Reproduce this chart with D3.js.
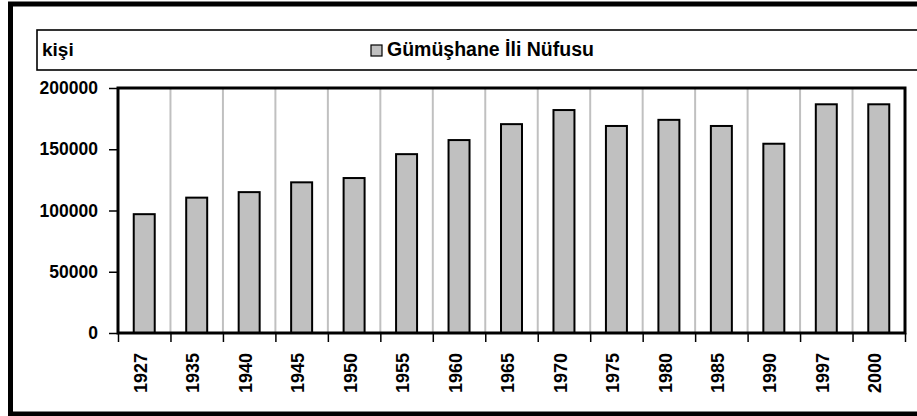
<!DOCTYPE html>
<html>
<head>
<meta charset="utf-8">
<script src="https://cdn.jsdelivr.net/npm/d3@7"></script>
<style>
  html, body { margin: 0; padding: 0; background: #fff; }
  svg { display: block; }
  text { font-family: "Liberation Sans", Arial, sans-serif; font-weight: 700; fill: #000; }
</style>
</head>
<body>
<svg id="chart" width="917" height="416"></svg>
<script>
// ─── Data ─────────────────────────────────────────────────────────────────────

const years = ["1927", "1935", "1940", "1945", "1950", "1955", "1960", "1965",
               "1970", "1975", "1980", "1985", "1990", "1997", "2000"];
const population = [97000, 110500, 115000, 123000, 126500, 146000, 157500, 170500,
                    182000, 169000, 174000, 169000, 154500, 186700, 186700];
const yTicks = [0, 50000, 100000, 150000, 200000];
const unitLabel = "kişi";
const seriesName = "Gümüşhane İli Nüfusu";

// ─── Layout ───────────────────────────────────────────────────────────────────

const svg = d3.select("#chart");
const plot = { left: 118, right: 905, top: 88, bottom: 333 };

const x = d3.scaleBand()
  .domain(years)
  .range([plot.left, plot.right])
  .paddingInner(0.6)
  .paddingOuter(0.3);

// index scale for the category boundaries (gridlines + tick marks)
const xi = d3.scaleLinear().domain([0, years.length]).range([plot.left, plot.right]);

const y = d3.scaleLinear().domain([0, 200000]).range([plot.bottom, plot.top]);

// outer chart border (runs off the right edge)
svg.append("rect")
  .attr("x", 10.5).attr("y", 4)
  .attr("width", 940).attr("height", 410)
  .attr("fill", "none")
  .attr("stroke", "#000")
  .attr("stroke-width", 5);

// legend box
svg.append("rect")
  .attr("x", 37).attr("y", 30)
  .attr("width", 900).attr("height", 40)
  .attr("fill", "#fff")
  .attr("stroke", "#000")
  .attr("stroke-width", 1.6);

svg.append("text")
  .attr("x", 42).attr("y", 56)
  .attr("font-size", "19px")
  .text(unitLabel);

svg.append("rect")
  .attr("x", 371).attr("y", 45)
  .attr("width", 11).attr("height", 11)
  .attr("fill", "#c0c0c0")
  .attr("stroke", "#000")
  .attr("stroke-width", 1.2);

svg.append("text")
  .attr("x", 387).attr("y", 56)
  .attr("font-size", "19.5px")
  .text(seriesName);

// gridlines at category boundaries
svg.append("g")
  .selectAll("line")
  .data(d3.range(1, years.length))
  .join("line")
  .attr("x1", d => xi(d)).attr("x2", d => xi(d))
  .attr("y1", plot.top).attr("y2", plot.bottom)
  .attr("stroke", "#c0c0c0")
  .attr("stroke-width", 2);

// bars
svg.append("g")
  .selectAll("rect")
  .data(years.map((yr, i) => ({ yr, v: population[i] })))
  .join("rect")
  .attr("x", d => x(d.yr))
  .attr("y", d => y(d.v))
  .attr("width", x.bandwidth())
  .attr("height", d => y(0) - y(d.v))
  .attr("fill", "#c0c0c0")
  .attr("stroke", "#000")
  .attr("stroke-width", 2);

// plot frame
svg.append("rect")
  .attr("x", plot.left).attr("y", plot.top)
  .attr("width", plot.right - plot.left)
  .attr("height", plot.bottom - plot.top)
  .attr("fill", "none")
  .attr("stroke", "#000")
  .attr("stroke-width", 3);

// y axis
const yAxis = svg.append("g")
  .attr("transform", `translate(${plot.left},0)`)
  .call(d3.axisLeft(y).tickValues(yTicks).tickSize(9).tickPadding(11).tickFormat(d3.format("d")));
yAxis.select(".domain").remove();
yAxis.selectAll("line").attr("stroke", "#000").attr("stroke-width", 1.5);
yAxis.selectAll("text")
  .attr("font-family", "Liberation Sans, Arial, sans-serif")
  .attr("font-weight", 700)
  .attr("font-size", "17.5px")
  .attr("fill", "#000");

// x tick marks at boundaries
const xTickAxis = svg.append("g")
  .attr("transform", `translate(0,${plot.bottom})`)
  .call(d3.axisBottom(xi).tickValues(d3.range(0, years.length + 1)).tickSize(9).tickFormat(""));
xTickAxis.select(".domain").remove();
xTickAxis.selectAll("line").attr("stroke", "#000").attr("stroke-width", 1.5);

// x labels, rotated
const xAxis = svg.append("g")
  .attr("transform", `translate(0,${plot.bottom})`)
  .call(d3.axisBottom(x).tickSize(0));
xAxis.select(".domain").remove();
xAxis.selectAll("text")
  .attr("font-family", "Liberation Sans, Arial, sans-serif")
  .attr("font-weight", 700)
  .attr("font-size", "18px")
  .attr("fill", "#000")
  .attr("text-anchor", "end")
  .attr("transform", "translate(-10,20) rotate(-90)")
  .attr("x", 0).attr("y", 0).attr("dy", "0.7em");
</script>
</body>
</html>
